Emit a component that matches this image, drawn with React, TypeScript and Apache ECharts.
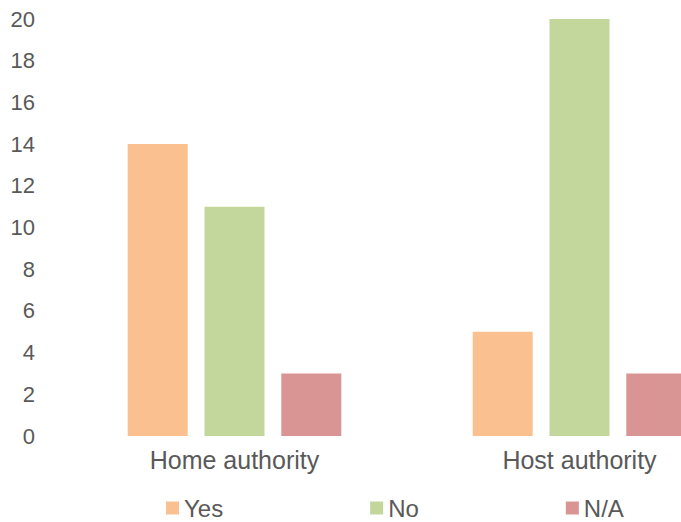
import React, { useEffect, useRef } from "react";
import * as echarts from "echarts";

const categories = ["Home authority", "Host authority"];
const seriesNames = ["Yes", "No", "N/A"];
const yesValues = [14, 5];
const noValues = [11, 20];
const naValues = [3, 3];
const colors = ["#FAC090", "#C3D69B", "#D99594"];

export default function App() {
  const ref = useRef<HTMLDivElement>(null);
  useEffect(() => {
    if (!ref.current) return;
    const chart = echarts.init(ref.current, undefined, { renderer: "svg" });
    const font = "Liberation Sans, Arial, sans-serif";
    const data = [yesValues, noValues, naValues];
    chart.setOption({
      animation: false,
      textStyle: { fontFamily: font },
      grid: { left: 62, top: 19, right: 8, bottom: 86, containLabel: false },
      legend: {
        left: 166,
        top: 496,
        padding: 0,
        itemWidth: 13,
        itemHeight: 13,
        itemGap: 147,
        icon: "rect",
        textStyle: {
          fontSize: 24,
          lineHeight: 24,
          color: "#595959",
          fontFamily: font,
        },
        data: seriesNames,
      },
      xAxis: {
        type: "category",
        data: categories,
        axisLine: { show: false },
        axisTick: { show: false },
        axisLabel: { fontSize: 25, color: "#595959", margin: 11, fontFamily: font },
      },
      yAxis: {
        type: "value",
        min: 0,
        max: 20,
        interval: 2,
        splitLine: { show: false },
        axisLine: { show: false },
        axisTick: { show: false },
        axisLabel: { fontSize: 22, color: "#595959", margin: 27, fontFamily: font },
      },
      series: seriesNames.map((name, i) => ({
        name,
        type: "bar",
        data: data[i],
        barWidth: 60,
        barGap: "28%",
        itemStyle: { color: colors[i] },
      })),
    });
    return () => chart.dispose();
  }, []);
  return (
    <div
      ref={ref}
      style={{ position: "fixed", left: 0, top: 0, width: 760, height: 522, background: "#fff" }}
    />
  );
}
